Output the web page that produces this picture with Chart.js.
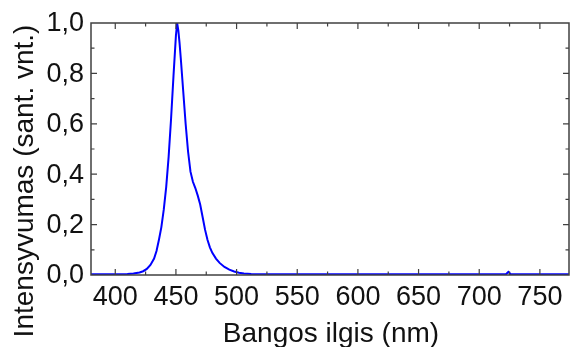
<!DOCTYPE html>
<html>
<head>
<meta charset="utf-8">
<script src="https://cdn.jsdelivr.net/npm/chart.js@4"></script>
<style>
  html, body { margin: 0; padding: 0; background: #fff; }
  #wrap { width: 570px; height: 347px; }
</style>
</head>
<body>
<div id="wrap"><canvas id="spec"></canvas></div>
<script>
// spectrum (nm, normalised intensity)
var wavelengths = [380, 390, 400, 410, 415, 420, 423, 426, 429, 432, 434, 436, 438, 440, 442, 444, 446, 448, 450, 451, 452, 453, 454, 456, 458, 460, 462, 464, 466, 468, 470, 472, 474, 476, 478, 480, 483, 486, 490, 494, 498, 502, 506, 512, 520, 550, 600, 650, 700, 722, 724, 726, 774];
var intensity = [0.003, 0.003, 0.003, 0.004, 0.006, 0.010, 0.015, 0.024, 0.040, 0.065, 0.095, 0.14, 0.19, 0.26, 0.35, 0.47, 0.62, 0.79, 0.95, 1.00, 0.97, 0.92, 0.86, 0.73, 0.60, 0.49, 0.41, 0.37, 0.345, 0.315, 0.28, 0.23, 0.18, 0.14, 0.11, 0.088, 0.065, 0.048, 0.032, 0.021, 0.014, 0.009, 0.006, 0.004, 0.003, 0.003, 0.003, 0.003, 0.003, 0.003, 0.012, 0.003, 0.003];

var xTicks = [400, 450, 500, 550, 600, 650, 700, 750];
var yTicks = [0, 0.2, 0.4, 0.6, 0.8, 1.0];
var yTickLabels = ['0,0', '0,2', '0,4', '0,6', '0,8', '1,0'];
var xTitle = 'Bangos ilgis (nm)';
var yTitle = 'Intensyvumas (sant. vnt.)';

var FONT = '"Liberation Sans", Arial, sans-serif';

var points = wavelengths.map(function (w, i) { return { x: w, y: intensity[i] }; });

// frame, inward ticks and all the text
var framePlugin = {
  id: 'frame',
  afterDraw: function (chart) {
    var ctx = chart.ctx, a = chart.chartArea;
    var xs = chart.scales.x, ys = chart.scales.y;
    ctx.save();
    ctx.strokeStyle = '#404040';
    ctx.lineWidth = 1.5;
    ctx.strokeRect(a.left, a.top, a.right - a.left, a.bottom - a.top);

    ctx.lineWidth = 1.2;
    ctx.beginPath();
    var step = xTicks[1] - xTicks[0];
    var xAll = [];
    xTicks.forEach(function (v) { xAll.push([v, 6]); xAll.push([v + step / 2, 3.5]); xAll.push([v - step / 2, 3.5]); });
    xAll.forEach(function (t) {
      if (t[0] <= xs.min || t[0] >= xs.max) return;
      var px = xs.getPixelForValue(t[0]);
      ctx.moveTo(px, a.bottom); ctx.lineTo(px, a.bottom - t[1]);
      ctx.moveTo(px, a.top); ctx.lineTo(px, a.top + t[1]);
    });
    var ystep = yTicks[1] - yTicks[0];
    var yAll = [];
    yTicks.forEach(function (v) { yAll.push([v, 6]); yAll.push([v + ystep / 2, 3.5]); });
    yAll.forEach(function (t) {
      if (t[0] <= ys.min || t[0] >= ys.max) return;
      var py = ys.getPixelForValue(t[0]);
      ctx.moveTo(a.left, py); ctx.lineTo(a.left + t[1], py);
      ctx.moveTo(a.right, py); ctx.lineTo(a.right - t[1], py);
    });
    ctx.stroke();

    ctx.fillStyle = '#111';
    ctx.font = '27px ' + FONT;
    ctx.textAlign = 'center';
    ctx.textBaseline = 'alphabetic';
    xTicks.forEach(function (v) {
      ctx.fillText(String(v), xs.getPixelForValue(v), 305);
    });
    ctx.textAlign = 'right';
    ctx.textBaseline = 'middle';
    yTicks.forEach(function (v, i) {
      ctx.fillText(yTickLabels[i], 84, ys.getPixelForValue(v) + 1);
    });

    ctx.font = '28px ' + FONT;
    ctx.textAlign = 'center';
    ctx.textBaseline = 'alphabetic';
    ctx.fillText(xTitle, (a.left + a.right) / 2 + 1, 342);

    ctx.translate(33, 181);
    ctx.rotate(-Math.PI / 2);
    ctx.fillText(yTitle, 0, 0);
    ctx.restore();
  }
};

new Chart(document.getElementById('spec').getContext('2d'), {
  type: 'line',
  data: {
    datasets: [{
      data: points,
      borderColor: '#0000ff',
      borderWidth: 2,
      pointRadius: 0,
      tension: 0,
      fill: false
    }]
  },
  options: {
    responsive: true,
    maintainAspectRatio: false,
    animation: false,
    layout: { padding: { top: 23, right: 1, left: 0, bottom: 0 } },
    plugins: { legend: { display: false }, tooltip: { enabled: false } },
    scales: {
      x: {
        type: 'linear', min: 380, max: 774,
        ticks: { display: false },
        grid: { display: false },
        border: { display: false },
        afterFit: function (s) { s.height = 72; }
      },
      y: {
        min: 0, max: 1,
        ticks: { display: false },
        grid: { display: false },
        border: { display: false },
        afterFit: function (s) { s.width = 91; }
      }
    }
  },
  plugins: [framePlugin]
});
</script>
</body>
</html>
